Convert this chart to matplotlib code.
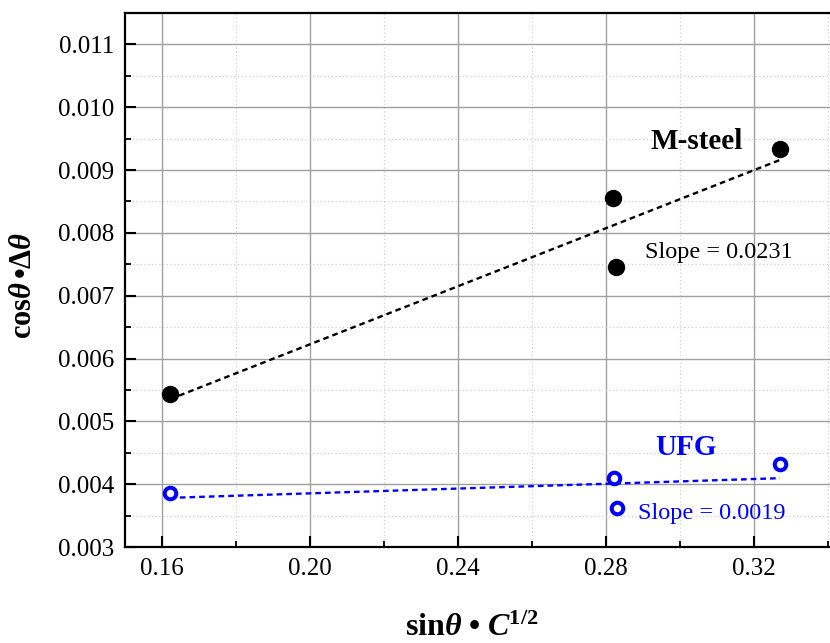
import matplotlib
matplotlib.use("Agg")
import matplotlib.pyplot as plt
import numpy as np
from matplotlib.ticker import MultipleLocator, FormatStrFormatter

plt.rcParams['font.family'] = ['Liberation Serif', 'DejaVu Serif']
plt.rcParams['mathtext.fontset'] = 'custom'
plt.rcParams['mathtext.rm'] = 'Liberation Serif'
plt.rcParams['mathtext.it'] = 'Liberation Serif:italic'
plt.rcParams['mathtext.bf'] = 'Liberation Serif:bold'
plt.rcParams['mathtext.bfit'] = 'Liberation Serif:bold:italic'

# Williamson-Hall data
msteel_x = [0.1622, 0.2819, 0.2827, 0.3270]
msteel_y = [0.00544, 0.00855, 0.00745, 0.00933]
msteel_slope = 0.0231

ufg_x = [0.1622, 0.2822, 0.2830, 0.3270]
ufg_y = [0.00386, 0.00410, 0.00362, 0.00432]
ufg_slope = 0.0019

x_ticks = [0.16, 0.20, 0.24, 0.28, 0.32]
y_ticks = [0.003, 0.004, 0.005, 0.006, 0.007, 0.008, 0.009, 0.010, 0.011]

BLUE = '#0000ff'

fig = plt.figure(figsize=(8.30, 6.43), dpi=100)
ax = fig.add_axes([125 / 830, 96 / 643, 740 / 830, 534 / 643])


def fit_line(xs, ys, slope):
    xs = np.asarray(xs)
    ys = np.asarray(ys)
    x0, y0 = xs.mean(), ys.mean()
    xl = np.array([xs.min(), xs.max()])
    return xl, y0 + slope * (xl - x0)


dash = (0, (2.4, 1.7))
lx, ly = fit_line(msteel_x, msteel_y, msteel_slope)
ax.plot(lx, ly, color='black', lw=1.7, ls=dash, zorder=3)
ax.plot(msteel_x, msteel_y, 'o', color='black', ms=11.5, zorder=4)

lx, ly = fit_line(ufg_x, ufg_y, ufg_slope)
ax.plot(lx, ly, color=BLUE, lw=1.7, ls=dash, zorder=3)
ax.plot(ufg_x, ufg_y, 'o', mfc='white', mec=BLUE, mew=2.9, ms=8.3, zorder=4)

ax.set_xlim(0.15, 0.35)
ax.set_ylim(0.003, 0.0115)
ax.set_xticks(x_ticks)
ax.set_yticks(y_ticks)
ax.xaxis.set_major_formatter(FormatStrFormatter('%.2f'))
ax.yaxis.set_major_formatter(FormatStrFormatter('%.3f'))
ax.xaxis.set_minor_locator(MultipleLocator(0.02))
ax.yaxis.set_minor_locator(MultipleLocator(0.0005))

ax.grid(which='major', color='#a0a0a0', lw=1.0, ls='-', zorder=0)
ax.grid(which='minor', color='#d0d0d0', lw=0.9, ls=(0, (1, 2)), zorder=0)
ax.set_axisbelow(True)

ax.tick_params(which='major', direction='in', length=8, width=1.5,
               labelsize=18, pad=8, top=False, right=False)
ax.tick_params(which='minor', direction='in', length=4, width=1.3,
               top=False, right=False)
for side in ['left', 'bottom', 'top']:
    ax.spines[side].set_linewidth(1.6)
ax.spines['right'].set_visible(False)

ax.set_ylabel('$\\mathbf{cos}\\mathbfit{\\theta}\\,\\mathbf{\u2022}\\mathbf{\\Delta}\\mathbfit{\\theta}$',
              fontsize=22)
ax.yaxis.set_label_coords(-0.118, 0.49)
ax.set_xlabel('$\\mathbf{sin}\\mathbfit{\\theta}\\ \\mathbf{\u2022}\\ \\mathbfit{C}^{\\mathbf{1/2}}$',
              fontsize=23)
ax.xaxis.set_label_coords((472 - 125) / 740, -0.125)

ax.text(0.3046, 0.00945, 'M-steel', fontsize=21, fontweight='bold',
        ha='center', va='center', color='black')
ax.text(0.2905, 0.00768, 'Slope = 0.0231', fontsize=17.5,
        ha='left', va='center', color='black')
ax.text(0.3016, 0.00459, 'UFG', fontsize=21, fontweight='bold',
        ha='center', va='center', color=BLUE)
ax.text(0.2886, 0.00354, 'Slope = 0.0019', fontsize=17.5,
        ha='left', va='center', color=BLUE)

fig.savefig('out.png', dpi=100)
